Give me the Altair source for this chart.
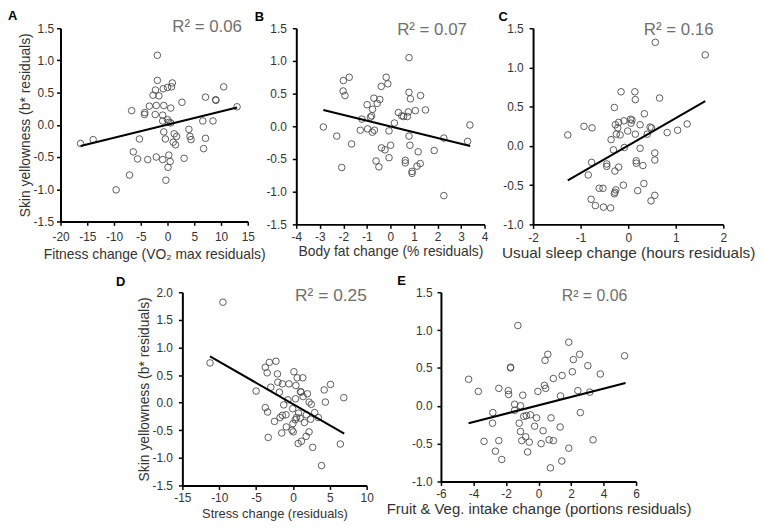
import altair as alt
import pandas as pd

FONT = "Liberation Sans"
MINUS = "\u2212"

# A: fitness change vs skin yellowness
fit_x = [-1.9, -1.9, 0.9, 0.75, 0.0, -0.8, -2.25, -2.7, -1.6, 7.1, 9.0, 9.05, 10.5, 13.0,
         2.7, -3.4, -2.1, -0.7, 0.6, -6.7, -4.25, -4.3, -2.3, -0.9, 0.0, 0.25, -0.9, 0.6,
         6.6, 8.5, -16.25, -13.9, -5.25, -0.7, -0.4, 1.25, 1.7, 1.06, 1.5, 4.0, 4.2, 4.4,
         7.1, 6.75, -6.4, -5.6, -3.7, -2.1, -0.9, 0.25, 0.5, 0.1, 3.1, -7.1, -0.3, -9.6]
fit_y = [1.08, 0.69, 0.65, 0.59, 0.58, 0.56, 0.54, 0.46, 0.45, 0.43, 0.39, 0.38, 0.59, 0.28,
         0.35, 0.29, 0.30, 0.30, 0.26, 0.22, 0.19, 0.16, 0.16, 0.15, 0.08, 0.04, 0.06, 0.03,
         0.06, 0.06, -0.29, -0.23, -0.22, -0.11, -0.22, -0.14, -0.18, -0.27, -0.31, -0.07, -0.18, -0.23,
         -0.21, -0.37, -0.42, -0.53, -0.54, -0.50, -0.54, -0.47, -0.57, -0.66, -0.52, -0.78, -0.86, -1.01]
fit_line_x = [-16.25, 13.0]
fit_line_y = [-0.33, 0.27]

# B: body fat change
fat_x = [0.79, -2.0, -1.75, -0.18, -0.11, -0.39, -2.01, -1.93, 0.79, 0.85, 1.28, -0.70, -0.45, -0.56,
         -0.99, -0.76, 0.34, 0.76, 1.06, 1.49, 0.48, 0.56, 0.72, -0.80, -0.85, -1.21, -2.85, 0.17,
         -2.28, -1.28, -0.97, -0.77, -0.68, -0.06, 0.79, 2.27, 3.38, 3.28, -1.65, -0.38, -0.23, 0.01,
         0.83, 1.18, 1.86, -0.06, -0.61, -0.49, 0.63, 0.63, 1.27, 1.13, 0.92, 0.92, -2.07, 2.27]
fat_y = [1.05, 0.70, 0.75, 0.75, 0.65, 0.61, 0.54, 0.47, 0.52, 0.42, 0.47, 0.43, 0.41, 0.35,
         0.33, 0.26, 0.21, 0.22, 0.24, 0.25, 0.16, 0.15, 0.15, 0.16, 0.14, 0.11, -0.01, 0.05,
         -0.15, -0.06, -0.04, -0.09, -0.06, -0.07, -0.15, -0.18, 0.02, -0.23, -0.27, -0.33, -0.36, -0.29,
         -0.29, -0.39, -0.37, -0.48, -0.53, -0.62, -0.52, -0.56, -0.57, -0.61, -0.69, -0.72, -0.63, -1.06]
fat_line_x = [-2.85, 3.39]
fat_line_y = [0.25, -0.30]

# C: usual sleep change
sleep_x = [0.57, 1.62, -0.15, 0.14, 0.15, 0.66, -0.29, 0.34, -0.93, -0.76, -1.27, -0.27, -0.20, -0.09,
           0.05, 0.08, 0.06, 0.25, -0.22, 0.46, 0.49, 1.24, 1.04, 0.82, 0.40, 0.15, -0.01, -0.25,
           -0.17, -0.36, -0.31, -0.08, 0.25, 0.56, 0.56, -0.77, 0.17, 0.17, 0.31, -0.45, -0.45, -0.20,
           -0.28, -0.84, 0.33, -0.10, -0.61, -0.53, -0.26, -0.28, -0.29, 0.20, 0.56, 0.48, -0.78, -0.69,
           -0.52, -0.37]
sleep_y = [1.32, 1.16, 0.69, 0.69, 0.59, 0.61, 0.49, 0.41, 0.25, 0.23, 0.14, 0.27, 0.30, 0.32,
           0.34, 0.33, 0.29, 0.27, 0.23, 0.24, 0.23, 0.28, 0.20, 0.17, 0.15, 0.15, 0.19, 0.15,
           0.14, 0.08, -0.05, -0.02, -0.03, -0.09, -0.18, -0.21, -0.19, -0.22, -0.25, -0.23, -0.26, -0.27,
           -0.32, -0.37, -0.48, -0.50, -0.54, -0.54, -0.56, -0.59, -0.61, -0.57, -0.63, -0.70, -0.68, -0.76,
           -0.78, -0.79]
sleep_line_x = [-1.27, 1.62]
sleep_line_y = [-0.44, 0.57]

# D: stress change
stress_x = [-9.5, -11.25, -5.0, -3.75, -3.2, -2.3, -3.5, -2.1, 0.13, 0.58, 1.34, -2.05, -1.43, -0.54,
            0.4, -3.0, -1.83, 1.03, 1.1, 1.96, 4.24, 5.1, 6.9, 4.4, -0.67, 0.36, 1.38, 2.19,
            2.5, -1.25, -0.04, -3.75, -3.44, -1.43, -1.74, -0.94, 0.76, 0.49, 0.31, 0.98, 1.83, 2.41,
            2.95, 3.44, -2.5, 1.56, -0.9, -0.13, 0.04, -1.52, 2.19, 1.79, 1.16, 0.71, -3.35, 2.68,
            6.43, 3.88, 0.0]
stress_y = [1.82, 0.72, 0.21, 0.64, 0.73, 0.75, 0.54, 0.52, 0.56, 0.45, 0.45, 0.37, 0.34, 0.34,
            0.31, 0.28, 0.19, 0.20, 0.19, 0.16, 0.23, 0.33, 0.09, 0.01, 0.05, 0.07, 0.11, 0.01,
            -0.03, -0.04, -0.11, -0.09, -0.17, -0.23, -0.27, -0.22, -0.19, -0.27, -0.31, -0.28, -0.22, -0.30,
            -0.18, -0.27, -0.34, -0.36, -0.44, -0.50, -0.53, -0.55, -0.53, -0.61, -0.70, -0.74, -0.63, -0.81,
            -0.75, -1.14, -0.38]
stress_line_x = [-11.25, 6.96]
stress_line_y = [0.84, -0.56]

# E: fruit & veg intake change
fv_x = [-1.27, 1.86, 0.57, 0.40, 2.53, 2.14, 5.29, 3.03, -1.72, -1.72, -4.3, 2.08, 3.80, 0.91,
        1.45, 0.36, 0.44, -3.70, -2.44, -1.86, -1.84, -0.97, -0.04, 1.35, 2.42, 3.15, -1.47, -1.11,
        -2.81, -1.47, -2.83, -0.91, -0.75, -0.5, -0.12, -1.19, 0.77, 2.57, -0.24, -1.11, 0.28, 1.33,
        -3.35, -2.44, -1.03, -0.79, -0.57, 0.16, 0.65, 0.91, 3.35, -2.65, -0.67, 1.86, -2.26, 1.43,
        0.73]
fv_y = [1.06, 0.84, 0.68, 0.60, 0.68, 0.61, 0.66, 0.53, 0.51, 0.50, 0.35, 0.45, 0.42, 0.36,
        0.40, 0.27, 0.23, 0.19, 0.23, 0.20, 0.15, 0.14, 0.19, 0.13, 0.20, 0.18, 0.02, 0.00,
        -0.09, -0.06, -0.23, -0.14, -0.13, -0.12, -0.16, -0.23, -0.16, -0.09, -0.27, -0.34, -0.33, -0.28,
        -0.47, -0.46, -0.46, -0.41, -0.48, -0.50, -0.45, -0.46, -0.45, -0.60, -0.61, -0.56, -0.71, -0.73,
        -0.82]
fv_line_x = [-4.3, 5.35]
fv_line_y = [-0.23, 0.30]

Y_TITLE = "Skin yellowness (b* residuals)"


def panel(px, py, lx, ly, r2, xdom, xticks, ydom, yticks, xtitle, ytitle, letter,
          width, height, r2_pos, letter_dx, letter_offset, x_pads, y_pads, xtitle_size,
          r2_size=17):
    x_enc = alt.X(
        "x:Q",
        scale=alt.Scale(domain=xdom, nice=False, zero=False),
        axis=alt.Axis(values=xticks, title=xtitle, titleFontSize=xtitle_size,
                      labelPadding=x_pads[0], titlePadding=x_pads[1],
                      labelExpr=f"replace(format(datum.value, 'd'), '{MINUS}', '-')"),
    )
    y_enc = alt.Y(
        "y:Q",
        scale=alt.Scale(domain=ydom, nice=False, zero=False),
        axis=alt.Axis(values=yticks, title=ytitle, titleFontSize=14,
                      labelPadding=y_pads[0], titlePadding=y_pads[1],
                      labelExpr=f"replace(format(datum.value, '.1f'), '{MINUS}', '-')"),
    )
    pts = (
        alt.Chart(pd.DataFrame({"x": px, "y": py}))
        .mark_point(shape="circle", filled=False, size=44, color="#4a4a4a",
                    strokeWidth=0.9, opacity=1)
        .encode(x=x_enc, y=y_enc)
    )
    line = (
        alt.Chart(pd.DataFrame({"x": lx, "y": ly}))
        .mark_line(color="black", strokeWidth=2)
        .encode(x=x_enc, y=y_enc)
    )
    txt = (
        alt.Chart(pd.DataFrame({"label": [r2]}))
        .mark_text(font=FONT, fontSize=r2_size, color="#6f6f6f", align="center", baseline="middle")
        .encode(x=alt.value(r2_pos[0]), y=alt.value(r2_pos[1]), text="label:N")
    )
    return alt.layer(pts, line, txt).properties(
        width=width,
        height=height,
        title=alt.TitleParams(letter, anchor="start", frame="group", dx=letter_dx,
                              fontSize=13, fontWeight="bold", font=FONT,
                              offset=letter_offset, color="black"),
    )


a = panel(fit_x, fit_y, fit_line_x, fit_line_y, "R\u00b2 = 0.06",
          [-20, 15], [-20, -15, -10, -5, 0, 5, 10, 15],
          [-1.5, 1.5], [-1.5, -1.0, -0.5, 0.0, 0.5, 1.0, 1.5],
          "Fitness change (VO\u2082 max residuals)", Y_TITLE, "A",
          189, 195, (148, -1), -53, -5, (6, 5), (3, 1), 14)
b = panel(fat_x, fat_y, fat_line_x, fat_line_y, "R\u00b2 = 0.07",
          [-4, 4], [-4, -3, -2, -1, 0, 1, 2, 3, 4],
          [-1.5, 1.5], [-1.5, -1.0, -0.5, 0.0, 0.5, 1.0, 1.5],
          "Body fat change (% residuals)", None, "B",
          190, 198, (137, 2), -42, -2.5, (3, 2), (6, 6), 14)
c = panel(sleep_x, sleep_y, sleep_line_x, sleep_line_y, "R\u00b2 = 0.16",
          [-2, 2], [-2, -1, 0, 1, 2],
          [-1.0, 1.5], [-1.0, -0.5, 0.0, 0.5, 1.0, 1.5],
          "Usual sleep change (hours residuals)", None, "C",
          192, 198, (147, 2), -35, -2.5, (4, 2), (6, 6), 15.5)
d = panel(stress_x, stress_y, stress_line_x, stress_line_y, "R\u00b2 = 0.25",
          [-15, 10], [-15, -10, -5, 0, 5, 10],
          [-1.5, 2.0], [-1.5, -1.0, -0.5, 0.0, 0.5, 1.0, 1.5, 2.0],
          "Stress change (residuals)", Y_TITLE, "D",
          186, 195, (150, 3.5), -67, -2.5, (3, 4), (6, 0), 13, 17.5)
e = panel(fv_x, fv_y, fv_line_x, fv_line_y, "R\u00b2 = 0.06",
          [-6, 6], [-6, -4, -2, 0, 2, 4, 6],
          [-1.0, 1.5], [-1.0, -0.5, 0.0, 0.5, 1.0, 1.5],
          "Fruit & Veg. intake change (portions residuals)", None, "E",
          197, 191, (155, 3.5), -44, -2, (3.5, 2), (5, 6), 15, 16)

# empty view that pushes the bottom row to the right
spacer = (
    alt.Chart(pd.DataFrame({"blank": [""]}))
    .mark_text()
    .encode(text="blank:N")
    .properties(width=47.5, height=195,
                view=alt.ViewBackground(fill="transparent", stroke="transparent"))
)

top = alt.hconcat(a, b, c, spacing=49, bounds="flush")
bottom = alt.hconcat(spacer, d, e, spacing=75, bounds="flush")

chart = (
    alt.vconcat(top, bottom, spacing=14.5)
    .properties(padding=0)
    .configure_view(stroke=None)
    .configure_axis(
        grid=False,
        domainColor="black",
        domainWidth=2,
        tickColor="black",
        tickWidth=1.5,
        tickSize=4,
        labelFont=FONT,
        labelFontSize=12,
        labelColor="#333333",
        titleFont=FONT,
        titleFontWeight="normal",
        titleColor="#333333",
        labelFlush=False,
        labelOverlap=False,
    )
)

chart.save("out.html", embed_options={"renderer": "svg", "actions": False})
